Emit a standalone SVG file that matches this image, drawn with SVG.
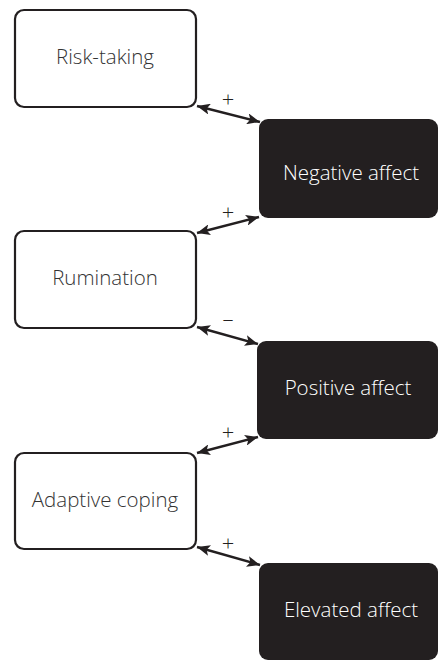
<svg xmlns="http://www.w3.org/2000/svg" width="438" height="660" viewBox="0 0 438 660">
<defs>
<marker id="ah" markerUnits="userSpaceOnUse" markerWidth="14" markerHeight="11" refX="13" refY="5.5" orient="auto-start-reverse">
<path d="M0,0 L13,5.5 L0,11 L3,5.5 z" fill="#231f20"/>
</marker>
<style>
.wb{fill:#fff;stroke:#231f20;stroke-width:2.2}
.bb{fill:#231f20;stroke:none}
.t{font-family:"Open Sans","Liberation Sans",sans-serif;font-weight:300;font-size:20.5px;text-anchor:middle}
.tw{fill:#fff}
.tk{fill:#333}
.c{stroke:#231f20;stroke-width:2.4;fill:none;marker-start:url(#ah);marker-end:url(#ah)}
.s{font-family:"Open Sans","Liberation Sans",sans-serif;font-weight:300;font-size:22px;text-anchor:middle;fill:#231f20}
</style>
</defs>
<g id="risk-taking"><rect class="wb" x="15" y="10" width="181" height="97" rx="9"/><text class="t tk" x="105" y="64">Risk-taking</text></g>
<g id="negative-affect"><rect class="bb" x="259" y="119" width="179" height="99" rx="9"/><text class="t tw" x="351" y="180">Negative affect</text></g>
<g id="rumination"><rect class="wb" x="15" y="231" width="181" height="97" rx="9"/><text class="t tk" x="105" y="285">Rumination</text></g>
<g id="positive-affect"><rect class="bb" x="257" y="341" width="181" height="98" rx="9"/><text class="t tw" x="348" y="395">Positive affect</text></g>
<g id="adaptive-coping"><rect class="wb" x="15" y="453" width="181" height="96" rx="9"/><text class="t tk" x="105" y="507">Adaptive coping</text></g>
<g id="elevated-affect"><rect class="bb" x="259" y="563" width="179" height="97" rx="9"/><text class="t tw" x="351" y="617">Elevated affect</text></g>
<g id="connectors">
<line class="c" x1="197" y1="106" x2="260" y2="122"/>
<line class="c" x1="197" y1="233" x2="259" y2="217"/>
<line class="c" x1="197" y1="327" x2="258" y2="344"/>
<line class="c" x1="197" y1="453" x2="258" y2="437"/>
<line class="c" x1="197" y1="547" x2="260" y2="565"/>
<text class="s" x="228" y="107">+</text>
<text class="s" x="228" y="220">+</text>
<text class="s" x="228" y="327">–</text>
<text class="s" x="228" y="440">+</text>
<text class="s" x="228" y="551">+</text>
</g>
</svg>
